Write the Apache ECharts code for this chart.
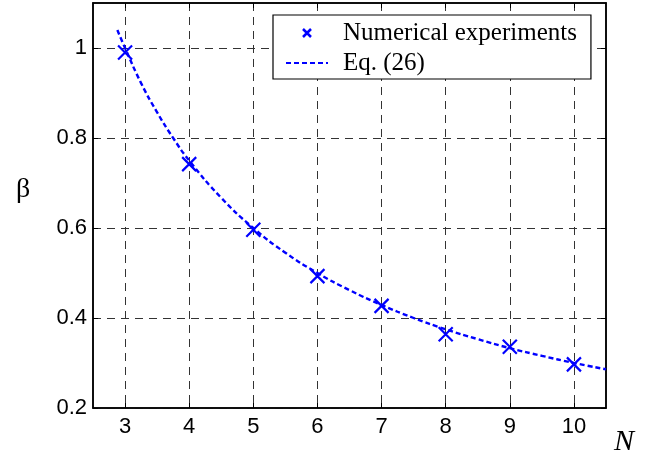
<!DOCTYPE html>
<html><head><meta charset="utf-8">
<script src="https://cdn.jsdelivr.net/npm/echarts@6/dist/echarts.min.js"></script>
<style>html,body{margin:0;padding:0;background:#fff}#c{width:657px;height:456px}</style>
</head><body><div id="c"></div>
<script>
// Numerical experiments (crosses)
const expN = [3, 4, 5, 6, 7, 8, 9, 10];
const expBeta = [0.99, 0.742, 0.596, 0.493, 0.427, 0.364, 0.336, 0.297];
// Eq. (26) curve
const eqN =    [2.88, 3, 3.25, 3.5, 3.75, 4, 4.5, 5, 5.5, 6, 6.5, 7, 7.5, 8, 8.5, 9, 9.5, 10, 10.5];
const eqBeta = [1.04, 1.0, 0.922, 0.857, 0.8, 0.75, 0.667, 0.6, 0.545, 0.5, 0.462, 0.429, 0.4, 0.375, 0.353, 0.333, 0.316, 0.3, 0.286];
const xTicks = [3, 4, 5, 6, 7, 8, 9, 10];
const yTicks = [0.2, 0.4, 0.6, 0.8, 1];
const legendNames = ['Numerical experiments', 'Eq. (26)'];

const chart = echarts.init(document.getElementById('c'), null, {renderer: 'canvas'});
const sans = 'Liberation Sans, Arial, sans-serif';
const serif = 'Liberation Serif, Times New Roman, serif';
const gridLine = {show: true, lineStyle: {color: '#333', type: [8, 6], width: 1}};
const xBase = {type: 'value', min: 2.5, max: 10.5,
  axisLine: {show: true, lineStyle: {color: '#000', width: 1.5}},
  axisTick: {show: true, inside: true, length: 5, lineStyle: {color: '#000'}, customValues: xTicks}};
const yBase = {type: 'value', min: 0.2, max: 1.1,
  axisLine: {show: true, lineStyle: {color: '#000', width: 1.5}},
  axisTick: {show: true, inside: true, length: 5, lineStyle: {color: '#000'}, customValues: yTicks}};
chart.setOption({
  animation: false,
  backgroundColor: '#fff',
  grid: {left: 93, right: 51, top: 3, bottom: 48, show: true, borderColor: '#000', borderWidth: 1.5, backgroundColor: 'transparent'},
  xAxis: [Object.assign({}, xBase, {
    position: 'bottom',
    axisLabel: {color: '#000', fontFamily: sans, fontSize: 22, margin: 8, customValues: xTicks},
    splitLine: gridLine
  }), Object.assign({}, xBase, {
    position: 'top', axisLabel: {show: false}, splitLine: {show: false}
  })],
  yAxis: [Object.assign({}, yBase, {
    position: 'left',
    axisLabel: {color: '#000', fontFamily: sans, fontSize: 22, margin: 6, customValues: yTicks,
      formatter: v => String(Math.round(v * 10) / 10)},
    splitLine: gridLine
  }), Object.assign({}, yBase, {
    position: 'right', axisLabel: {show: false}, splitLine: {show: false}
  })],
  legend: {
    left: 273, top: 15, orient: 'vertical',
    backgroundColor: '#fff', borderColor: '#000', borderWidth: 1.2,
    padding: [5, 14, 3, 12], itemGap: 4, itemWidth: 42, itemHeight: 8,
    textStyle: {fontFamily: serif, fontSize: 25, color: '#000', lineHeight: 26, padding: [0, 0, 0, 10]},
    data: [
      {name: legendNames[0], icon: 'path://M0,0L10,10M10,0L0,10', itemStyle: {color: 'none', borderColor: '#0000ff', borderWidth: 2.5}},
      {name: legendNames[1], itemStyle: {color: 'rgba(0,0,0,0)', borderWidth: 0, borderColor: 'rgba(0,0,0,0)'}}
    ]
  },
  graphic: [
    {type: 'text', left: 16, top: 176, style: {text: 'β', font: '28px ' + serif, fill: '#000'}},
    {type: 'text', left: 614, top: 427, style: {text: 'N', font: 'italic 30px ' + serif, fill: '#000'}}
  ],
  series: [{
    name: legendNames[1], type: 'line', smooth: true, symbol: 'none', z: 3,
    data: eqN.map((n, i) => [n, eqBeta[i]]),
    lineStyle: {color: '#0000ff', width: 2.4, type: [5, 3]},
    itemStyle: {color: '#0000ff'}
  }, {
    name: legendNames[0], type: 'scatter', z: 4,
    symbol: 'path://M0,0L10,10M10,0L0,10', symbolSize: 14,
    data: expN.map((n, i) => [n, expBeta[i]]),
    itemStyle: {color: 'none', borderColor: '#0000ff', borderWidth: 2.2, opacity: 1}
  }]
});
</script></body></html>
